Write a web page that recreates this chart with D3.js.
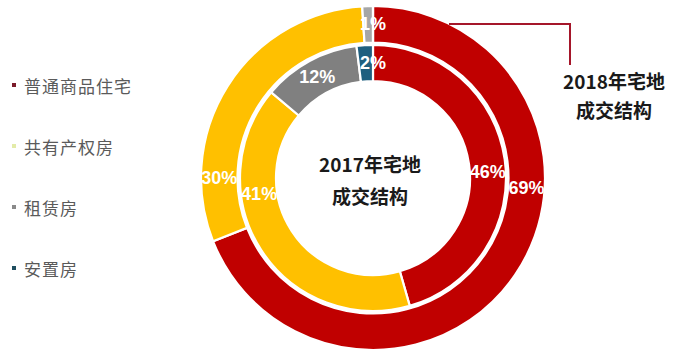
<!DOCTYPE html>
<html><head><meta charset="utf-8">
<script src="https://cdn.jsdelivr.net/npm/d3@7"></script>
<style>html,body{margin:0;padding:0;background:#fff;}svg{display:block;}</style>
</head><body>
<svg id="chart" width="700" height="357"></svg>
<script>
// ---- data ----
const categories = ["普通商品住宅", "共有产权房", "租赁房", "安置房"];
const values2018 = [69, 30, 1, 0];
const values2017 = [46, 41, 12, 2];
const labels2018 = ["69%", "30%", "1%", ""];
const labels2017 = ["46%", "41%", "12%", "2%"];
const title2017 = ["2017年宅地", "成交结构"];
const title2018 = ["2018年宅地", "成交结构"];

// ---- layout / style ----
const W = 700, H = 357, cx = 373, cy = 178;
const ringColors = ["#C00000", "#FFC000", "#808080", "#1F5F7F"];
const outerColors = ["#C00000", "#FFC000", "#A6A6A6", "#1F5F7F"];
const legendColors = ["#7B1B2A", "#E3EBA8", "#8A8A8A", "#1F4E5F"];
const outerLabelAngles = [93.7, 270, 0, 0];
const innerLabelAngles = [87, 262, 331, 0];

const svg = d3.select("#chart");
const g = svg.append("g").attr("transform", `translate(${cx},${cy})`);

const pie = d3.pie().sort(null).value(d => d);

function ring(values, colors, r0, r1, labels, angles) {
  const arc = d3.arc().innerRadius(r0).outerRadius(r1);
  const arcs = pie(values);
  g.append("g").selectAll("path").data(arcs).join("path")
    .attr("d", arc)
    .attr("fill", (d, i) => colors[i])
    .attr("stroke", "#fff").attr("stroke-width", 2.2)
    .attr("stroke-linejoin", "miter");
  const rm = (r0 + r1) / 2;
  g.append("g").selectAll("text").data(arcs).join("text")
    .attr("x", (d, i) => rm * Math.sin(angles[i] * Math.PI / 180))
    .attr("y", (d, i) => -rm * Math.cos(angles[i] * Math.PI / 180))
    .attr("text-anchor", "middle")
    .attr("dominant-baseline", "central")
    .attr("fill", "#fff")
    .attr("font-family", "'Liberation Sans', Arial, sans-serif")
    .attr("font-weight", "bold")
    .attr("font-size", 18)
    .text((d, i) => labels[i]);
}

ring(values2018, outerColors, 135.5, 172, labels2018, outerLabelAngles);
ring(values2017, ringColors, 97, 133, labels2017, innerLabelAngles);

// center title
const cjk = "'Noto Sans CJK SC', 'Noto Sans', sans-serif";
svg.append("g").selectAll("text").data(title2017).join("text")
  .attr("x", 370).attr("y", (d, i) => 163 + i * 32)
  .attr("text-anchor", "middle").attr("dominant-baseline", "central")
  .attr("font-family", cjk).attr("font-weight", "bold").attr("font-size", 19)
  .attr("fill", "#1a1a1a").text(d => d);

// 2018 title with leader
svg.append("polyline")
  .attr("points", "449,24 570,24 570,65")
  .attr("fill", "none").attr("stroke", "#A5162A").attr("stroke-width", 2);
svg.append("g").selectAll("text").data(title2018).join("text")
  .attr("x", 614).attr("y", (d, i) => 80 + i * 29)
  .attr("text-anchor", "middle").attr("dominant-baseline", "central")
  .attr("font-family", cjk).attr("font-weight", "bold").attr("font-size", 19)
  .attr("fill", "#1a1a1a").text(d => d);

// legend
const ly = d3.scalePoint().domain(categories).range([85, 268]);
const lg = svg.append("g").selectAll("g").data(categories).join("g")
  .attr("transform", d => `translate(0,${ly(d)})`);
lg.append("rect").attr("x", 12).attr("y", -2).attr("width", 4).attr("height", 4)
  .attr("fill", (d, i) => legendColors[i]);
lg.append("text").attr("x", 24).attr("y", 0)
  .attr("dominant-baseline", "central")
  .attr("font-family", cjk).attr("font-size", 17).attr("fill", "#5a5a5a")
  .attr("letter-spacing", 1)
  .text(d => d);
</script>
</body></html>
